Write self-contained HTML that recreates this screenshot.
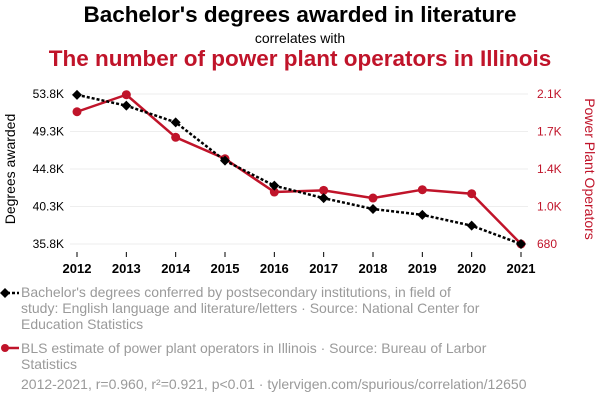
<!DOCTYPE html>
<html><head><meta charset="utf-8"><style>
body{margin:0;width:600px;height:408px;background:#fff;font-family:"Liberation Sans",sans-serif;overflow:hidden;position:relative}
.t{position:absolute;left:0;width:600px;text-align:center}
.leg{position:absolute;left:21px;color:#9a9a9a;font-size:14px;line-height:16px}
</style></head><body>
<div class="t" style="top:2px;font-size:22.5px;font-weight:bold;color:#000">Bachelor's degrees awarded in literature</div>
<div class="t" style="top:30px;font-size:14px;color:#000">correlates with</div>
<div class="t" style="top:46px;font-size:22.5px;font-weight:bold;color:#c0142a">The number of power plant operators in Illinois</div>
<svg id="ch" width="600" height="408" style="position:absolute;left:0;top:0"></svg>
<div class="leg" style="top:284px;width:470px">Bachelor's degrees conferred by postsecondary institutions, in field of study: English language and literature/letters · Source: National Center for Education Statistics</div>
<div class="leg" style="top:340px;width:470px">BLS estimate of power plant operators in Illinois · Source: Bureau of Larbor Statistics</div>
<div class="leg" style="top:376px">2012-2021, r=0.960, r²=0.921, p&lt;0.01 · tylervigen.com/spurious/correlation/12650</div>
<script>
const years=[2012,2013,2014,2015,2016,2017,2018,2019,2020,2021];
const degrees=[53.7,52.4,50.4,45.8,42.8,41.3,40.0,39.3,38.0,35.8];
const operators=[1932,2093,1690,1487,1172,1188,1115,1194,1156,680];
const leftTicks=["53.8K","49.3K","44.8K","40.3K","35.8K"];
const rightTicks=["2.1K","1.7K","1.4K","1.0K","680"];
const svg=document.getElementById('ch'),NS="http://www.w3.org/2000/svg";
function mk(t,a,p){const e=document.createElementNS(NS,t);for(const k in a)e.setAttribute(k,a[k]);(p||svg).appendChild(e);return e;}
const x=i=>77+i*(521-77)/(years.length-1);
const yL=v=>94+(53.8-v)*150/18;
const yR=v=>94+(2100-v)*150/1420;
for(let i=0;i<5;i++){const y=94+i*37.5;
 const g=mk('line',{x1:70,x2:528,y1:y,y2:y,stroke:'#eee','stroke-width':1});
 const l=mk('text',{x:64,y:y+4,'text-anchor':'end','font-size':12,fill:'#000'});l.textContent=leftTicks[i];
 const r=mk('text',{x:537,y:y+4,'font-size':12,fill:'#c0142a'});r.textContent=rightTicks[i];}
years.forEach((yr,i)=>{const t=mk('line',{x1:x(i),x2:x(i),y1:252,y2:257,stroke:'#000'});
 const l=mk('text',{x:x(i),y:273,'text-anchor':'middle','font-size':13,'font-weight':'bold'});l.textContent=yr;});
const yl=mk('text',{transform:'translate(15,169) rotate(-90)','text-anchor':'middle','font-size':14});yl.textContent='Degrees awarded';
const yr=mk('text',{transform:'translate(585,169) rotate(90)','text-anchor':'middle','font-size':14,fill:'#c0142a'});yr.textContent='Power Plant Operators';
const rl=mk('polyline',{points:operators.map((v,i)=>x(i)+','+yR(v)).join(' '),fill:'none',stroke:'#c0142a','stroke-width':2.5});
operators.forEach((v,i)=>{const c=mk('circle',{cx:x(i),cy:yR(v),r:4.5,fill:'#c0142a'});});
const bl=mk('polyline',{points:degrees.map((v,i)=>x(i)+','+yL(v)).join(' '),fill:'none',stroke:'#000','stroke-width':2.5,'stroke-dasharray':'3,2'});
degrees.forEach((v,i)=>{const X=x(i),Y=yL(v);const p=mk('polygon',{points:`${X},${Y-5} ${X+5},${Y} ${X},${Y+5} ${X-5},${Y}`,fill:'#000'});});
let m=mk('line',{x1:2,x2:19,y1:293,y2:293,stroke:'#000','stroke-width':2.5,'stroke-dasharray':'3,2'});
m=mk('polygon',{points:'5,288 10,293 5,298 0,293',fill:'#000'});
m=mk('line',{x1:2,x2:19,y1:348,y2:348,stroke:'#c0142a','stroke-width':2.5});
m=mk('circle',{cx:5,cy:348,r:4,fill:'#c0142a'});
</script>
</body></html>
